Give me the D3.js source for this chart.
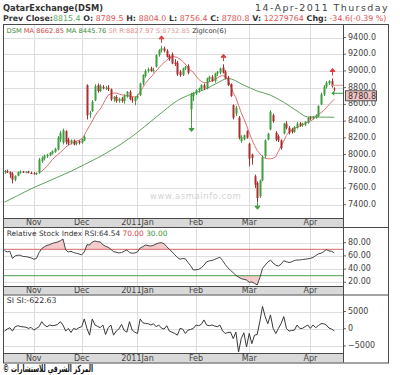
<!DOCTYPE html>
<html>
<head>
<meta charset="utf-8">
<script src="https://cdn.jsdelivr.net/npm/d3@7"></script>
<style>
  body { margin: 0; background: #fff; }
  svg { display: block; }
  text { font-family: "DejaVu Sans", Verdana, sans-serif; }
</style>
</head>
<body>
<svg id="chart" width="400" height="375"></svg>
<script>
// trading days (Sun-Thu) of the Qatar Exchange
const firstDay = '2010-10-17';
const lastDay = '2011-04-14';
const holidays = ['2010-11-15', '2010-11-16', '2010-11-17', '2010-11-18', '2010-12-19'];

// [open, high, low, close] per trading day
const candles = [
  [7790, 7815, 7770, 7800], [7800, 7820, 7780, 7785], [7790, 7800, 7720, 7760], [7770, 7790, 7656, 7700],
  [7700, 7750, 7680, 7745], [7745, 7800, 7740, 7790], [7790, 7810, 7770, 7795], [7795, 7805, 7780, 7785],
  [7785, 7800, 7775, 7795], [7795, 7805, 7775, 7780], [7780, 7795, 7770, 7775], [7775, 7790, 7760, 7770],
  [7770, 7785, 7755, 7780], [7780, 7960, 7770, 7940], [7920, 7980, 7900, 7960], [7950, 8000, 7930, 7985],
  [7980, 8010, 7960, 7995], [7990, 8030, 7980, 8020], [8010, 8050, 8000, 8040], [8030, 8080, 8020, 8070],
  [8060, 8220, 8050, 8200], [8180, 8280, 8150, 8260], [8140, 8310, 8120, 8290], [8280, 8290, 8120, 8150],
  [8180, 8200, 8110, 8130], [8140, 8180, 8120, 8170], [8170, 8180, 8110, 8120], [8130, 8160, 8110, 8150],
  [8160, 8170, 8120, 8140], [8140, 8190, 8130, 8180], [8170, 8230, 8160, 8210], [8830, 8840, 8420, 8470],
  [8480, 8520, 8440, 8500], [8520, 8650, 8510, 8630], [8650, 8840, 8640, 8820], [8830, 8850, 8740, 8760],
  [8760, 8840, 8750, 8820], [8810, 8830, 8780, 8790], [8790, 8820, 8770, 8800], [8800, 8830, 8760, 8780],
  [8780, 8790, 8640, 8660], [8660, 8700, 8630, 8690], [8690, 8710, 8620, 8640], [8640, 8680, 8620, 8670],
  [8670, 8690, 8620, 8640], [8640, 8720, 8610, 8700], [8690, 8760, 8680, 8750], [8750, 8770, 8650, 8660],
  [8660, 8690, 8620, 8650], [8640, 8690, 8590, 8680], [8680, 8720, 8660, 8700], [8710, 8860, 8700, 8850],
  [8850, 8960, 8830, 8950], [8940, 9020, 8920, 9000], [9000, 9040, 8980, 9020], [9030, 9050, 8990, 9000],
  [9000, 9040, 8980, 9010], [9050, 9200, 9040, 9190], [9190, 9260, 9170, 9250], [9250, 9300, 9220, 9270],
  [9270, 9290, 9220, 9240], [9240, 9260, 9160, 9170], [9180, 9200, 9120, 9140], [9200, 9220, 9080, 9090],
  [9100, 9140, 9060, 9080], [9100, 9120, 8940, 8960], [8990, 9010, 8930, 8950], [8950, 9040, 8940, 9030],
  [9030, 9060, 9010, 9050], [9060, 9080, 8960, 8980], [8540, 8740, 8360, 8720], [8700, 8750, 8640, 8740],
  [8730, 8780, 8710, 8770], [8770, 8800, 8740, 8790], [8780, 8840, 8760, 8830], [8830, 8850, 8770, 8790],
  [8790, 8920, 8780, 8910], [8900, 8940, 8870, 8930], [8930, 8950, 8870, 8880], [8880, 8980, 8860, 8970],
  [8970, 9000, 8940, 8990], [8980, 9040, 8960, 9030], [9040, 9080, 8970, 8980], [8990, 9010, 8900, 8910],
  [8920, 8940, 8820, 8830], [8840, 8850, 8690, 8700], [8590, 8600, 8420, 8440], [8490, 8580, 8460, 8560],
  [8440, 8460, 8180, 8200], [8160, 8230, 8140, 8210], [8180, 8240, 8170, 8230], [8280, 8290, 8190, 8200],
  [8130, 8140, 7860, 7950], [8000, 8010, 7880, 7960], [7740, 7760, 7600, 7640], [7660, 7680, 7430, 7480],
  [7500, 7700, 7480, 7690], [7690, 7990, 7680, 7970], [7980, 8180, 7960, 8170], [8180, 8260, 8170, 8250],
  [8300, 8530, 8290, 8510], [8470, 8490, 8380, 8400], [8260, 8280, 8160, 8180], [8220, 8240, 8150, 8170],
  [8170, 8180, 8060, 8080], [8250, 8380, 8240, 8370], [8370, 8400, 8300, 8320], [8320, 8340, 8240, 8260],
  [8300, 8320, 8250, 8270], [8270, 8340, 8260, 8330], [8320, 8390, 8310, 8370], [8370, 8390, 8330, 8350],
  [8350, 8380, 8330, 8370], [8360, 8400, 8340, 8390], [8380, 8450, 8370, 8440], [8440, 8460, 8410, 8430],
  [8430, 8460, 8420, 8450], [8440, 8480, 8430, 8470], [8460, 8590, 8450, 8580], [8600, 8740, 8590, 8720],
  [8720, 8830, 8700, 8810], [8810, 8880, 8790, 8860], [8850, 8890, 8830, 8880], [8880, 8910, 8800, 8815.4],
  [8789.5, 8804.0, 8756.4, 8780.8],
];

// short moving average, starts at day 13
const maShortStart = 13;
const maShort = [
  7790, 7800, 7830, 7860, 7900, 7940, 7970, 8000, 8025, 8055, 8090, 8110,
  8130, 8145, 8160, 8170, 8185, 8230, 8290, 8345, 8400, 8460, 8510, 8545,
  8600, 8660, 8710, 8730, 8735, 8735, 8725, 8715, 8710, 8705, 8700, 8692,
  8690, 8700, 8752, 8800, 8850, 8890, 8925, 8960, 9000, 9035, 9070, 9100,
  9130, 9155, 9170, 9170, 9160, 9140, 9115, 9080, 9040, 9005, 8985, 8940,
  8900, 8875, 8860, 8860, 8870, 8880, 8895, 8915, 8935, 8945, 8935, 8895,
  8820, 8740, 8680, 8590, 8500, 8430, 8350, 8260, 8180, 8110, 8050, 8010,
  7975, 7955, 7950, 7950, 7955, 7975, 8040, 8100, 8160, 8230, 8270, 8295,
  8310, 8325, 8340, 8355, 8370, 8385, 8400, 8420, 8450, 8480, 8500, 8525,
  8560, 8595, 8630, 8662.85,
];

// long moving average, read at these days
const maLongDays = [0, 5, 10, 15, 20, 25, 30, 35, 40, 45, 50, 55, 60, 65, 70, 75, 80, 84, 90, 95, 100, 105, 110, 114, 124];
const maLongValues = [7430, 7510, 7590, 7660, 7730, 7800, 7880, 7960, 8050, 8150, 8265, 8395, 8525, 8645,
  8720, 8775, 8855, 8910, 8830, 8760, 8710, 8625, 8520, 8450, 8445.76];

const rsi = [
  68, 66, 67, 56, 60, 61, 61, 59, 59, 58,
  57, 55, 56, 65, 71, 74, 76, 77, 79, 80,
  81, 83, 85.6, 69, 66, 67, 65, 64, 63, 61.5,
  66, 77, 76.5, 81, 82.6, 81.5, 81, 77, 74.5, 73,
  70, 66.4, 65.6, 64.5, 65, 67, 69, 65, 64, 64.5,
  66, 72, 74, 76.5, 75.5, 75, 76, 78, 79.5, 80,
  78.5, 74, 70, 66, 62, 57.5, 55, 56, 55.5, 50,
  45, 38.6, 39, 39.5, 42, 46, 51, 52.5, 53, 54.5,
  56.5, 57.9, 53, 47, 42, 38, 34.5, 30.5, 28, 25.5,
  24.5, 23.5, 20, 20.5, 18.5, 15.9, 27, 41, 46, 50.5,
  53.8, 49, 46, 44.7, 47.5, 52.7, 51.2, 50, 51, 53,
  53.8, 53.8, 54.5, 55, 55.5, 56.3, 57.5, 60.5, 63, 64,
  66.5, 69.5, 67.5, 67, 64.54,
];

const si = [
  -680, -100, 290, -680, 590, 880, 650, 550, 450, 100,
  390, -390, 100, 590, 2060, 1080, 590, 1080, 880, 1000,
  1270, 2060, 1080, -680, 100, -1080, 100, -200, 300, 590,
  2840, 100, -1860, 2840, 1080, 700, 300, 1080, -1670, 300,
  1080, -1860, -680, -100, 1270, -500, -980, 2060, -390, -1000,
  -1370, 2840, 1760, 1500, 1470, 1080, 1470, 590, 1080, 200,
  -100, 880, -680, -1000, -1370, -1860, 100, -100, -1370, -390,
  -200, 100, 1080, 880, 1270, 2550, 1080, 880, 1080, 800,
  590, 1080, -590, -1370, -1100, -980, -2840, -980, -6760, -2840,
  -1180, -5290, -1370, -4320, -1860, -1670, 2060, 6470, 3530, 1470,
  4020, 100, -1370, 100, 1500, 3530, 100, -680, -500, -390,
  1080, 100, 100, 600, 1080, 100, 1080, 300, 900, 1470,
  1470, 1080, 200, -100, -622.63,
];

// zigzag pivots (day index)
const peaks = [59, 82, 123];
const troughs = [70, 95];

const priceTicks = [7400, 7600, 7800, 8000, 8200, 8400, 8600, 8800, 9000, 9200, 9400];
const rsiTicks = [20, 40, 60, 80];
const siTicks = [-5000, 0, 5000];
const resistance = 8827.97;
const support = 8732.85;

const upColor = '#3f9c3f';
const downColor = '#a93030';
const gridColor = '#dedede';
const frameColor = '#4a4a4a';

const plotLeft = 3;
const plotRight = 343;
const frameRight = 388;
const panels = {
  main: {top: 24, bottom: 218, band: 227},
  rsi: {top: 227, bottom: 286, band: 294.5},
  si: {top: 294.5, bottom: 353, band: 362.5},
};

const svg = d3.select('#chart');

const parseDay = d3.timeParse('%Y-%m-%d');
const dayKey = d3.timeFormat('%Y-%m-%d');
const holidaySet = new Set(holidays);
const days = d3.timeDay
    .range(parseDay(firstDay), d3.timeDay.offset(parseDay(lastDay), 1))
    .filter((d) => d.getDay() !== 5 && d.getDay() !== 6 && !holidaySet.has(dayKey(d)));

const monthStarts = days
    .map((d, i) => i)
    .filter((i) => i > 0 && days[i].getMonth() !== days[i - 1].getMonth());
const monthLabel = (d) => d.getMonth() === 0 ? `${d.getFullYear()}Jan` : d3.timeFormat('%b')(d);

const x = d3.scaleLinear()
    .domain([0, candles.length - 1])
    .range([4.5, 334.3]);
const y = d3.scaleLinear().domain([7400, 9400]).range([204.7, 37.5]);
const yR = d3.scaleLinear().domain([20, 80]).range([282.3, 242.7]);
const yS = d3.scaleLinear().domain([-5000, 5000]).range([346, 311.5]);

const defs = svg.append('defs');
const clip = (id, x0, y0, x1, y1) => {
  defs.append('clipPath').attr('id', id)
      .append('rect')
      .attr('x', x0).attr('y', y0)
      .attr('width', x1 - x0).attr('height', y1 - y0);
  return `url(#${id})`;
};

// fit a text element to a width
const fit = (sel, width) => {
  const len = sel.node().getComputedTextLength();
  sel.attr('font-size', parseFloat(sel.attr('font-size')) * width / len);
  return sel;
};

/**
 * Draws grid, x band and y labels for one panel.
 */
const drawPanel = (p, scale, ticks, format) => {
  const g = svg.append('g');
  g.selectAll('.hgrid')
      .data(ticks)
      .join('line')
      .attr('x1', plotLeft).attr('x2', plotRight)
      .attr('y1', (d) => Math.round(scale(d)) + 0.5)
      .attr('y2', (d) => Math.round(scale(d)) + 0.5)
      .attr('stroke', gridColor);
  g.selectAll('.vgrid')
      .data(monthStarts)
      .join('line')
      .attr('x1', (i) => Math.round(x(i)) + 0.5)
      .attr('x2', (i) => Math.round(x(i)) + 0.5)
      .attr('y1', p.top).attr('y2', p.bottom)
      .attr('stroke', gridColor);

  g.append('rect')
      .attr('x', plotLeft).attr('y', p.bottom)
      .attr('width', plotRight - plotLeft).attr('height', p.band - p.bottom)
      .attr('fill', '#d9d9d9');
  g.append('line')
      .attr('x1', plotLeft).attr('x2', plotRight)
      .attr('y1', p.bottom + 0.5).attr('y2', p.bottom + 0.5)
      .attr('stroke', frameColor);
  g.selectAll('.month')
      .data(monthStarts)
      .join('text')
      .attr('x', (i) => x(i))
      .attr('y', p.band - 1.8)
      .attr('text-anchor', 'middle')
      .attr('font-size', 8)
      .attr('fill', '#444')
      .text((i) => monthLabel(days[i]));

  g.selectAll('.ytick')
      .data(ticks)
      .join('line')
      .attr('x1', plotRight).attr('x2', plotRight + 3)
      .attr('y1', (d) => scale(d)).attr('y2', (d) => scale(d))
      .attr('stroke', '#666');
  g.selectAll('.ylabel')
      .data(ticks)
      .join('text')
      .attr('x', plotRight + 5)
      .attr('y', (d) => scale(d) - 0.8)
      .attr('dy', '0.36em')
      .attr('font-size', 8)
      .attr('fill', '#444')
      .text(format);
  return g;
};

drawPanel(panels.main, y, priceTicks, d3.format('.1f'));
drawPanel(panels.rsi, yR, rsiTicks, d3.format('.2f'));
drawPanel(panels.si, yS, siTicks, d3.format('d'));

// watermark
fit(svg.append('text')
    .attr('x', 150).attr('y', 199)
    .attr('font-size', 10)
    .attr('fill', '#d2d2d2')
    .attr('letter-spacing', 0.6)
    .text('www.asmainfo.com'), 90);

// price panel
const main = svg.append('g')
    .attr('clip-path', clip('clipMain', plotLeft, panels.main.top, plotRight, panels.main.bottom));

main.append('path')
    .datum(maLongDays.map((d, i) => [d, maLongValues[i]]))
    .attr('fill', 'none')
    .attr('stroke', '#5f9f5f')
    .attr('stroke-width', 1)
    .attr('d', d3.line().x((d) => x(d[0])).y((d) => y(d[1])).curve(d3.curveMonotoneX));

main.append('path')
    .datum(maShort)
    .attr('fill', 'none')
    .attr('stroke', '#e07070')
    .attr('stroke-width', 1)
    .attr('d', d3.line().x((d, i) => x(i + maShortStart)).y((d) => y(d)));

const candle = main.append('g')
    .selectAll('g')
    .data(candles)
    .join('g')
    .attr('fill', (d) => d[3] >= d[0] ? upColor : downColor)
    .attr('stroke', (d) => d[3] >= d[0] ? upColor : downColor);
candle.append('line')
    .attr('x1', (d, i) => Math.round(x(i)) + 0.5)
    .attr('x2', (d, i) => Math.round(x(i)) + 0.5)
    .attr('y1', (d) => y(d[1]))
    .attr('y2', (d) => y(d[2]));
candle.append('rect')
    .attr('stroke', 'none')
    .attr('x', (d, i) => Math.round(x(i)) - 0.5)
    .attr('width', 2)
    .attr('y', (d) => y(Math.max(d[0], d[3])))
    .attr('height', (d) => Math.max(1, Math.abs(y(d[0]) - y(d[3]))));

// zigzag icons
main.selectAll('.peak')
    .data(peaks)
    .join('path')
    .attr('fill', '#e03c3c')
    .attr('stroke', '#e03c3c')
    .attr('d', (i) => {
      const cx = Math.round(x(i)) + 0.5;
      const cy = y(candles[i][1]) - 3;
      return `M${cx},${cy}V${cy - 4}M${cx - 2.5},${cy - 4}L${cx + 2.5},${cy - 4}L${cx},${cy - 7}Z`;
    });
main.selectAll('.trough')
    .data(troughs)
    .join('path')
    .attr('fill', '#3f9c3f')
    .attr('stroke', '#3f9c3f')
    .attr('d', (i) => {
      const cx = Math.round(x(i)) + 0.5;
      const cy = y(candles[i][2]);
      return `M${cx},${cy}V${cy + 4}M${cx - 2.5},${cy + 4}L${cx + 2.5},${cy + 4}L${cx},${cy + 7}Z`;
    });

// resistance / support at the last bars
const last = candles.length - 1;
svg.append('line')
    .attr('x1', x(last - 1)).attr('x2', plotRight)
    .attr('y1', y(resistance)).attr('y2', y(resistance))
    .attr('stroke', '#e89a9a');
svg.append('line')
    .attr('x1', x(last) - 2).attr('x2', plotRight)
    .attr('y1', y(support)).attr('y2', y(support))
    .attr('stroke', '#3f9c3f');
svg.append('path')
    .attr('fill', '#3f9c3f')
    .attr('d', `M${x(last) - 3},${y(support)}l3,-2.5v5z`);

const lastClose = candles[last][3];
svg.append('rect')
    .attr('x', plotRight + 2.5).attr('y', y(lastClose) + 1.5)
    .attr('width', 31).attr('height', 10)
    .attr('fill', '#f3c4c4')
    .attr('stroke', '#555');
svg.append('text')
    .attr('x', plotRight + 5).attr('y', y(lastClose) + 6.5)
    .attr('dy', '0.36em')
    .attr('font-size', 8)
    .attr('fill', '#333')
    .text(d3.format('.1f')(lastClose));

// RSI panel
const rsiG = svg.append('g')
    .attr('clip-path', clip('clipRsi', plotLeft, panels.rsi.top, plotRight, panels.rsi.bottom));
const rsiArea = (level) => d3.area()
    .x((d, i) => x(i))
    .y0(yR(level))
    .y1((d) => yR(d));
rsiG.append('path')
    .datum(rsi)
    .attr('fill', '#f4cccc')
    .attr('clip-path', clip('clipHigh', plotLeft, panels.rsi.top, plotRight, yR(70)))
    .attr('d', rsiArea(70));
rsiG.append('path')
    .datum(rsi)
    .attr('fill', '#f4cccc')
    .attr('clip-path', clip('clipLow', plotLeft, yR(30), plotRight, panels.rsi.bottom))
    .attr('d', rsiArea(30));
rsiG.append('line')
    .attr('x1', plotLeft).attr('x2', plotRight)
    .attr('y1', yR(70)).attr('y2', yR(70))
    .attr('stroke', '#d46a6a');
rsiG.append('line')
    .attr('x1', plotLeft).attr('x2', plotRight)
    .attr('y1', yR(30)).attr('y2', yR(30))
    .attr('stroke', '#4e9e4e');
rsiG.append('path')
    .datum(rsi)
    .attr('fill', 'none')
    .attr('stroke', '#444')
    .attr('d', d3.line().x((d, i) => x(i)).y((d) => yR(d)));

// SI panel
svg.append('g')
    .attr('clip-path', clip('clipSi', plotLeft, panels.si.top, plotRight, panels.si.bottom))
    .append('path')
    .datum(si)
    .attr('fill', 'none')
    .attr('stroke', '#383838')
    .attr('d', d3.line().x((d, i) => x(i)).y((d) => yS(d)));

// frame
const frame = svg.append('g').attr('stroke', frameColor).attr('fill', 'none');
frame.append('rect')
    .attr('x', plotLeft + 0.5).attr('y', panels.main.top + 0.5)
    .attr('width', frameRight - plotLeft).attr('height', panels.si.band - panels.main.top);
frame.append('line')
    .attr('x1', plotRight + 0.5).attr('x2', plotRight + 0.5)
    .attr('y1', panels.main.top).attr('y2', panels.si.band);
[panels.main.band, panels.rsi.band].forEach((b) => {
  frame.append('line')
      .attr('x1', plotLeft).attr('x2', frameRight)
      .attr('y1', b + 0.5).attr('y2', b + 0.5);
});

// legends
const legend = (px, py, size, width, parts) => {
  const t = svg.append('text')
      .attr('x', px).attr('y', py)
      .attr('font-size', size)
      .attr('xml:space', 'preserve');
  parts.forEach(([s, color, weight]) => {
    t.append('tspan').attr('fill', color).attr('font-weight', weight || 'normal').text(s);
  });
  return fit(t, width);
};

legend(6.5, 32.5, 8, 220, [
  ['DSM ', '#3a8a3a'], ['MA 8662.85 ', '#c84a4a'], ['MA 8445.76 ', '#3a8a3a'],
  ['SR ', '#e6a0a0'], ['R:8827.97 ', '#e08c8c'], ['S:8732.85 ', '#d9a0a0'], ['ZigIcon(6)', '#333'],
]);
legend(6.7, 236, 8, 161, [
  ['Relative Stock Index RSI:64.54 ', '#333'], ['70.00 ', '#d04a4a'], ['30.00', '#3a9a3a'],
]);
legend(6.7, 302.5, 8, 50, [['SI SI:-622.63', '#333']]);

legend(3, 11, 9, 100, [['QatarExchange(DSM)', '#333', 'bold']]);
svg.append('text')
    .attr('x', frameRight).attr('y', 10.5)
    .attr('text-anchor', 'end')
    .attr('font-size', 9.5)
    .attr('fill', '#444')
    .attr('letter-spacing', 0.5)
    .attr('textLength', 133)
    .text('14-Apr-2011 Thursday');

legend(3, 21, 8, 384, [
  ['Prev Close:', '#333', 'bold'], ['8815.4', '#5aa65a'],
  [' O: ', '#333', 'bold'], ['8789.5', '#e05050'],
  [' H: ', '#333', 'bold'], ['8804.0', '#e05050'],
  [' L: ', '#333', 'bold'], ['8756.4', '#e05050'],
  [' C: ', '#333', 'bold'], ['8780.8', '#e05050'],
  [' V: ', '#333', 'bold'], ['12279764', '#e05050'],
  [' Chg: ', '#333', 'bold'], ['-34.6(-0.39 %)', '#e05050'],
]);

svg.append('text')
    .attr('x', 3).attr('y', 372)
    .attr('font-size', 10)
    .attr('font-weight', 'bold')
    .attr('fill', '#111')
    .attr('textLength', 90)
    .attr('lengthAdjust', 'spacingAndGlyphs')
    .text('© المركز الشرقي للاستشارات');
</script>
</body>
</html>
